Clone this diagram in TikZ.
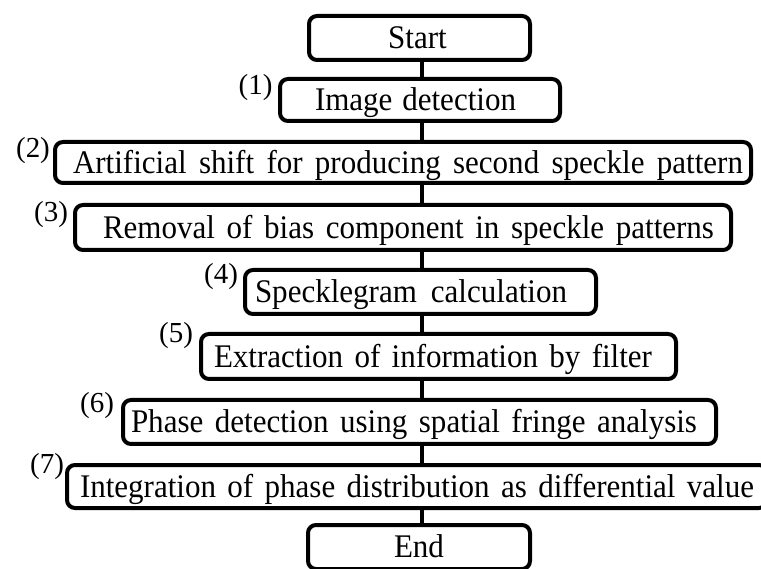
\documentclass[tikz,border=0pt]{standalone}
\usepackage{fontspec}
\setmainfont{Liberation Serif}
\newfontfamily\condserif[FakeStretch=0.94]{Liberation Serif}
\newcommand\boxtext[3]{\hspace*{#2}\makebox[#1][s]{#3}\hspace*{-#2}}
\begin{document}
\begin{tikzpicture}[x=1pt,y=-1pt,
  stage/.style={draw=black, line width=4pt, rounded corners=8pt, fill=white,
    inner sep=0pt, font=\condserif\fontsize{33}{33}\selectfont, text height=21.8pt, text depth=0pt},
  tag/.style={inner sep=0pt, font=\fontsize{29}{29}\selectfont, text height=20pt, text depth=6pt},
  link/.style={line width=4pt}]
\fill[white] (0,0) rectangle (761,569);
\clip (0,0) rectangle (761,569);
\coordinate (spine) at (421.5,0);

\node[stage, minimum width=221pt, minimum height=44pt] (start) at (419.5,38) {\hspace*{-2pt}Start\hspace*{2pt}};
\node[stage, minimum width=280pt, minimum height=42pt] (b1) at (420,100) {\boxtext{201pt}{-4.5pt}{Image detection}};
\node[stage, minimum width=696pt, minimum height=41pt] (b2) at (403,162.5) {\boxtext{670pt}{5pt}{Artificial shift for producing second speckle pattern}};
\node[stage, minimum width=656pt, minimum height=45pt] (b3) at (403,227.5) {\boxtext{611pt}{5.5pt}{Removal of bias component in speckle patterns}};
\node[stage, minimum width=351pt, minimum height=44pt] (b4) at (420.5,292) {\boxtext{312pt}{-9.5pt}{Specklegram calculation}};
\node[stage, minimum width=475pt, minimum height=45pt] (b5) at (438.5,356.5) {\boxtext{438pt}{-5.5pt}{Extraction of information by filter}};
\node[stage, minimum width=593pt, minimum height=44pt] (b6) at (419.5,422) {\boxtext{566pt}{-5.5pt}{Phase detection using spatial fringe analysis}};
\node[stage, minimum width=700pt, minimum height=43pt] (b7) at (417,486.5) {\boxtext{674pt}{0pt}{Integration of phase distribution as differential value}};
\node[stage, minimum width=222pt, minimum height=44pt] (end) at (419,547) {End};

\node[tag] (l1) at (255.5,88) {(1)};
\node[tag] (l2) at (33,151) {(2)};
\node[tag] (l3) at (51,215) {(3)};
\node[tag] (l4) at (221,277) {(4)};
\node[tag] (l5) at (176,336) {(5)};
\node[tag] (l6) at (97,406) {(6)};
\node[tag] (l7) at (47,467) {(7)};

\draw[link] (start.south -| spine) -- (b1.north -| spine);
\draw[link] (b1.south -| spine) -- (b2.north -| spine);
\draw[link] (b2.south -| spine) -- (b3.north -| spine);
\draw[link] (b3.south -| spine) -- (b4.north -| spine);
\draw[link] (b4.south -| spine) -- (b5.north -| spine);
\draw[link] (b5.south -| spine) -- (b6.north -| spine);
\draw[link] (b6.south -| spine) -- (b7.north -| spine);
\draw[link] (b7.south -| spine) -- (end.north -| spine);
\end{tikzpicture}
\end{document}
